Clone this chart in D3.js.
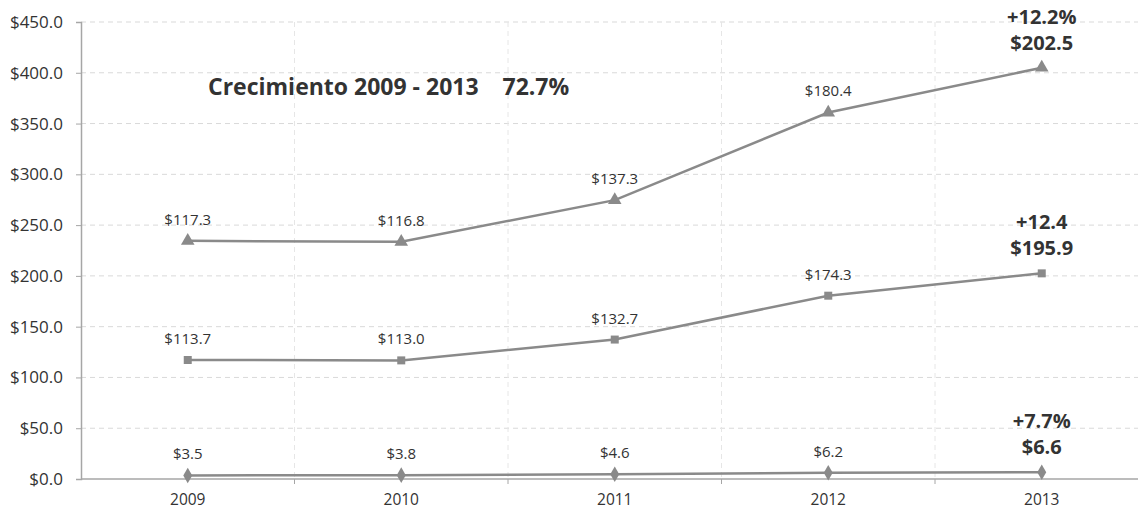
<!DOCTYPE html>
<html>
<head>
<meta charset="utf-8">
<script src="https://cdn.jsdelivr.net/npm/d3@7"></script>
<style>
  html, body { margin: 0; padding: 0; background: #fff; }
  svg { display: block; }
  text { font-family: "Open Sans", "Noto Sans", sans-serif; fill: #333; }
</style>
</head>
<body>
<svg id="chart" width="1138" height="511"></svg>
<script>
// Years on the category axis
const years = ["2009", "2010", "2011", "2012", "2013"];
// Series, bottom to top of the stack
const seriesBottom = [3.5, 3.8, 4.6, 6.2, 6.6];
const seriesMiddle = [113.7, 113.0, 132.7, 174.3, 195.9];
const seriesTop = [117.3, 116.8, 137.3, 180.4, 202.5];
// Growth notes shown above the last point of each series
const lastGrowth = ["+7.7%", "+12.4", "+12.2%"];
// Value axis ticks
const yTicks = [0, 50, 100, 150, 200, 250, 300, 350, 400, 450];
const headline = "Crecimiento 2009 - 2013    72.7%";

const seriesKeys = ["bottom", "middle", "top"];
const table = years.map((y, i) => ({
  year: y,
  bottom: seriesBottom[i],
  middle: seriesMiddle[i],
  top: seriesTop[i]
}));
const stacked = d3.stack().keys(seriesKeys)(table);

const svg = d3.select("#chart");
const left = 81, bandW = 213.5;
const x = d3.scaleBand().domain(years).range([left, left + bandW * years.length]).paddingInner(0).paddingOuter(0);
const y = d3.scaleLinear().domain([0, 450]).range([479, 22]);
const cx = d => x(d) + x.bandwidth() / 2;

const lineColor = "#8a8a8a";
const gridColor = "#d9d9d9";

// Horizontal dashed gridlines
svg.append("g").selectAll("line").data(yTicks.filter(t => t > 0)).join("line")
  .attr("x1", left).attr("x2", 1138)
  .attr("y1", d => y(d)).attr("y2", d => y(d))
  .attr("stroke", gridColor).attr("stroke-width", 1).attr("stroke-dasharray", "5,4");

// Vertical dashed gridlines at category boundaries
svg.append("g").selectAll("line").data(years.slice(1)).join("line")
  .attr("x1", d => x(d)).attr("x2", d => x(d))
  .attr("y1", y(450)).attr("y2", y(0))
  .attr("stroke", "#e6e6e6").attr("stroke-width", 1).attr("stroke-dasharray", "5,4");

// Value axis
const yAxis = d3.axisLeft(y).tickValues(yTicks).tickSize(5).tickPadding(13)
  .tickFormat(d => "$" + d3.format(".1f")(d));
const gy = svg.append("g").attr("transform", `translate(${left},0)`).call(yAxis);
gy.select(".domain").attr("stroke", "#a6a6a6").attr("stroke-width", 1.5);
gy.selectAll(".tick line").attr("stroke", "#a6a6a6");
gy.selectAll(".tick text").attr("font-size", 17).attr("fill", "#333")
  .style("font-family", '"Open Sans", sans-serif');

// Category axis
const gx = svg.append("g").attr("transform", `translate(0,${y(0)})`);
gx.append("line").attr("x1", left).attr("x2", 1138).attr("y1", 0).attr("y2", 0)
  .attr("stroke", "#a6a6a6").attr("stroke-width", 1.5);
gx.selectAll("line.tk").data(years.slice(1)).join("line").attr("class", "tk")
  .attr("x1", d => x(d)).attr("x2", d => x(d)).attr("y1", 0).attr("y2", 5)
  .attr("stroke", "#a6a6a6");
gx.selectAll("text").data(years).join("text")
  .attr("x", d => cx(d)).attr("y", 26)
  .attr("text-anchor", "middle").attr("font-size", 15.5)
  .text(d => d);

// Lines
const line = d3.line().x(d => cx(d.data.year)).y(d => y(d[1]));
svg.append("g").selectAll("path").data(stacked).join("path")
  .attr("d", line).attr("fill", "none")
  .attr("stroke", lineColor).attr("stroke-width", 2.5);

// Markers
const symbols = [d3.symbolDiamond, d3.symbolSquare, d3.symbolTriangle];
const sizes = [70, 64, 80];
stacked.forEach((s, si) => {
  svg.append("g").selectAll("path").data(s).join("path")
    .attr("transform", d => `translate(${cx(d.data.year)},${y(d[1])})`)
    .attr("d", d3.symbol().type(symbols[si]).size(sizes[si]))
    .attr("fill", lineColor);
});

// Data labels
const fmt = d => "$" + d3.format(".1f")(d);
stacked.forEach((s, si) => {
  const g = svg.append("g");
  s.forEach((d, i) => {
    const px = cx(d.data.year), py = y(d[1]);
    const val = d.data[s.key];
    if (i < years.length - 1) {
      g.append("text").attr("x", px).attr("y", py - 16)
        .attr("text-anchor", "middle").attr("font-size", 15)
        .text(fmt(val));
    } else {
      g.append("text").attr("x", px).attr("y", py - 18)
        .attr("text-anchor", "middle").attr("font-size", 20).attr("font-weight", "bold")
        .attr("fill", "#111")
        .text(fmt(val));
      g.append("text").attr("x", px).attr("y", py - 44)
        .attr("text-anchor", "middle").attr("font-size", 20).attr("font-weight", "bold")
        .attr("fill", "#111")
        .text(lastGrowth[si]);
    }
  });
});

// Headline
svg.append("text").attr("x", 208).attr("y", 95)
  .attr("font-size", 23).attr("font-weight", "bold").attr("fill", "#111")
  .attr("xml:space", "preserve").style("white-space", "pre")
  .text(headline);
</script>
</body>
</html>
